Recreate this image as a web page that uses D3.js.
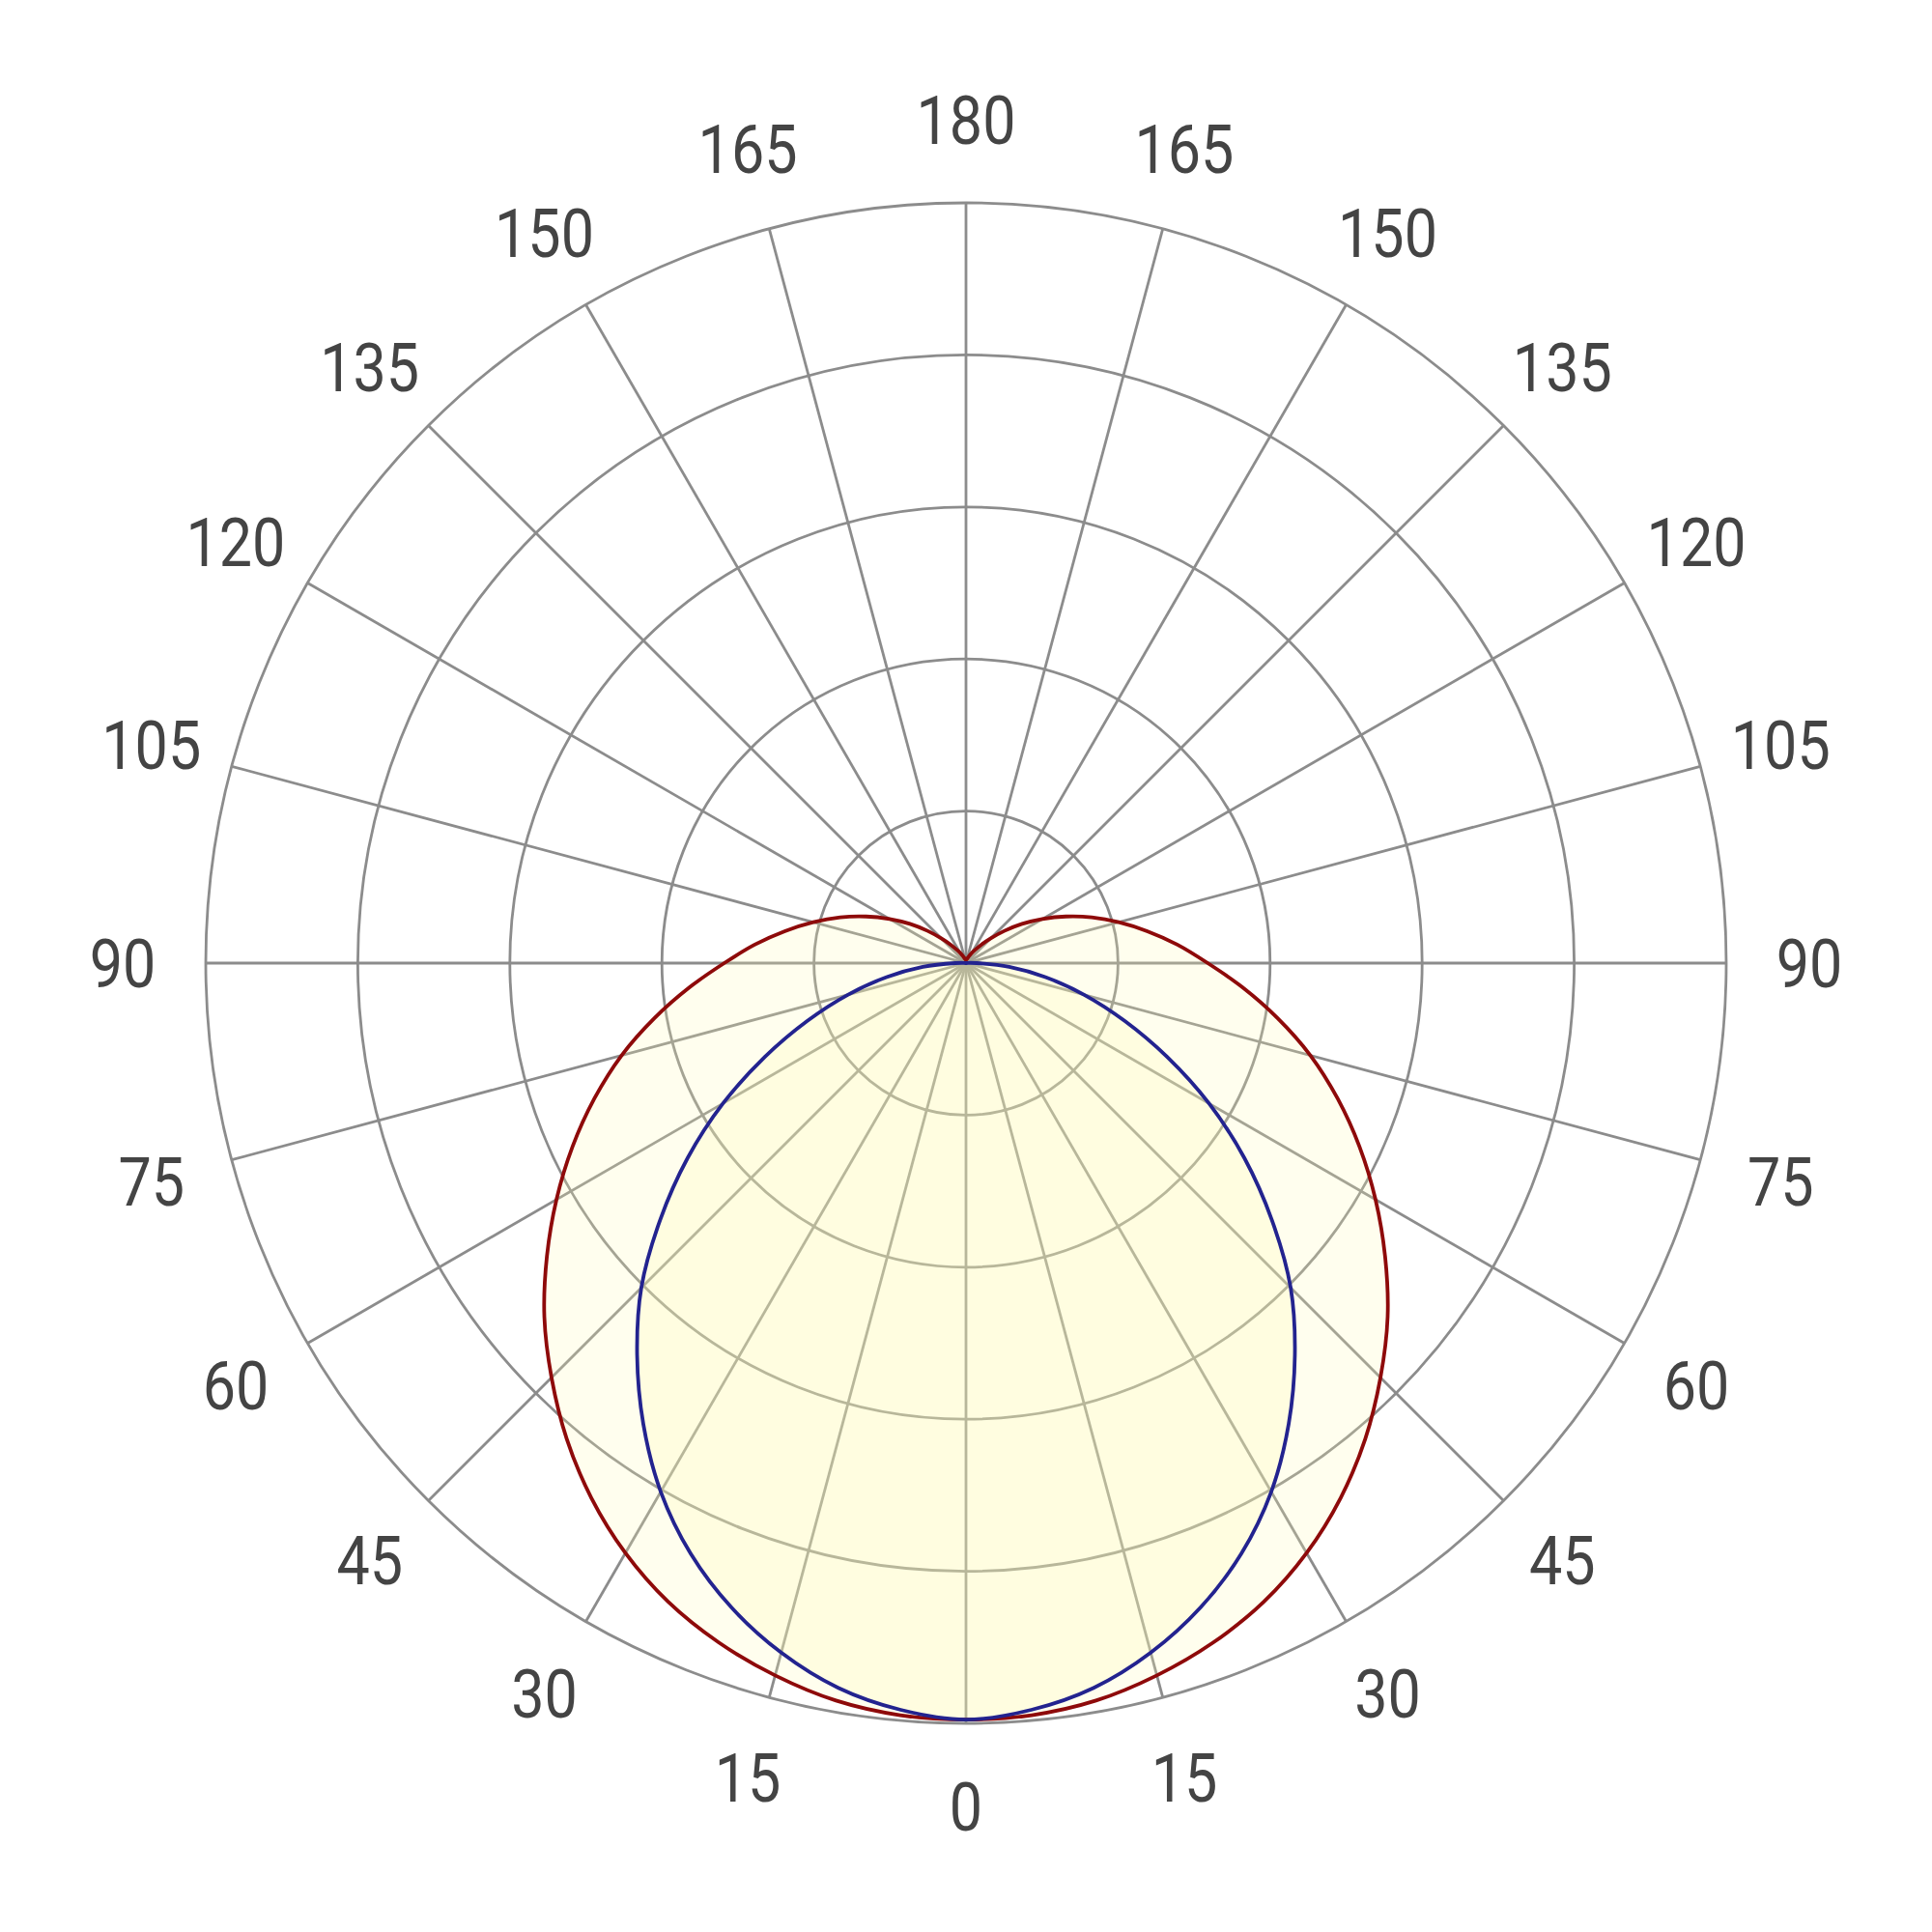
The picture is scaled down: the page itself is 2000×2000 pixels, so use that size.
<!DOCTYPE html>
<html>
<head>
<meta charset="utf-8">
<script src="https://cdn.jsdelivr.net/npm/d3@7/dist/d3.min.js"></script>
<style>
  html, body { margin: 0; padding: 0; background: #ffffff; }
  svg { display: block; }
</style>
</head>
<body>
<script>
// ---- data ----
const angles = [0,5,10,15,20,25,30,35,40,45,50,55,60,65,70,75,80,85,90,95,100,105,110,115,120,125,130,135,140,145,150,155,160,165,170,175,180];
// C0-C180 plane (red), relative intensity in %
const redValues = [99.5,99.3,98.5,97.0,95.1,92.7,89.6,85.9,81.7,77.1,72.4,67.3,62.2,57.1,52.0,46.9,41.6,36.5,31.8,27.9,24.2,20.8,17.6,14.5,11.6,9.0,6.6,4.6,3.2,2.2,1.6,1.1,0.8,0.6,0.5,0.5,0.5];
// C90-C270 plane (blue)
const blueValues = [99.5,98.6,96.8,93.9,90.2,85.7,80.3,74.0,67.3,60.4,52.5,44.7,36.9,29.2,22.2,16.1,10.6,5.7,1.4,0.3,0,0,0,0,0,0,0,0,0,0,0,0,0,0,0,0,0];
const ringValues = [20,40,60,80,100];
const spokeAngles = d3.range(0, 360, 15);
const labelAngles = [0,15,30,45,60,75,90,105,120,135,150,165,180];

// ---- layout ----
const W = 2000, H = 2000;
const cx = 1000, cy = 997, R = 787;

const svg = d3.select("body").append("svg").attr("width", W).attr("height", H);
svg.append("rect").attr("width", W).attr("height", H).attr("fill", "#ffffff");

const r = d3.scaleLinear().domain([0, 100]).range([0, R]);
const a = d3.scaleLinear().domain([0, 180]).range([0, Math.PI]);

const g = svg.append("g").attr("transform", `translate(${cx},${cy})`);

// grid
const grid = g.append("g").attr("fill", "none").attr("stroke", "#8c8c8c").attr("stroke-width", 2.8);
grid.selectAll("line").data(spokeAngles).join("line")
  .attr("x1", 0).attr("y1", 0)
  .attr("x2", d => r(100) * Math.sin(d * Math.PI / 180))
  .attr("y2", d => r(100) * Math.cos(d * Math.PI / 180));
grid.selectAll("circle").data(ringValues).join("circle")
  .attr("r", d => r(d));

// curves: closed path, angle measured from the bottom (0) to the top (180) on both sides
function pts(vals) {
  const right = angles.map((t, i) => [Math.PI - a(t), r(vals[i])]);
  const left = angles.slice(1, -1).reverse().map(t => {
    const i = angles.indexOf(t);
    return [Math.PI + a(t), r(vals[i])];
  });
  return right.concat(left);
}
const line = d3.lineRadial().angle(d => d[0]).radius(d => d[1]).curve(d3.curveCatmullRomClosed.alpha(0.5));

const series = [
  { vals: redValues, color: "#8e0a0a" },
  { vals: blueValues, color: "#23238f" }
];
g.selectAll("path.fill").data(series).join("path")
  .attr("class", "fill")
  .attr("d", d => line(pts(d.vals)))
  .attr("fill", "rgb(255,250,179)")
  .attr("fill-opacity", 0.22)
  .attr("stroke", "none");
g.selectAll("path.stroke").data(series).join("path")
  .attr("class", "stroke")
  .attr("d", d => line(pts(d.vals)))
  .attr("fill", "none")
  .attr("stroke", d => d.color)
  .attr("stroke-width", 3.8)
  .attr("stroke-linejoin", "round");

// labels
const labelR = 873;
const labels = [];
labelAngles.forEach(t => {
  if (t === 0 || t === 180) labels.push({ t, side: 0 });
  else { labels.push({ t, side: 1 }); labels.push({ t, side: -1 }); }
});
g.append("g").selectAll("text").data(labels).join("text")
  .attr("transform", d => {
    const x = (d.side === 0 ? 0 : d.side) * labelR * Math.sin(a(d.t));
    const y = labelR * Math.cos(a(d.t));
    return `translate(${x},${y}) scale(0.86,1)`;
  })
  .attr("dy", "0.355em")
  .attr("text-anchor", "middle")
  .attr("font-family", "Roboto, 'Noto Sans', sans-serif")
  .attr("font-size", 71)
  .attr("fill", "#444444")
  .text(d => d.t);
</script>
</body>
</html>
